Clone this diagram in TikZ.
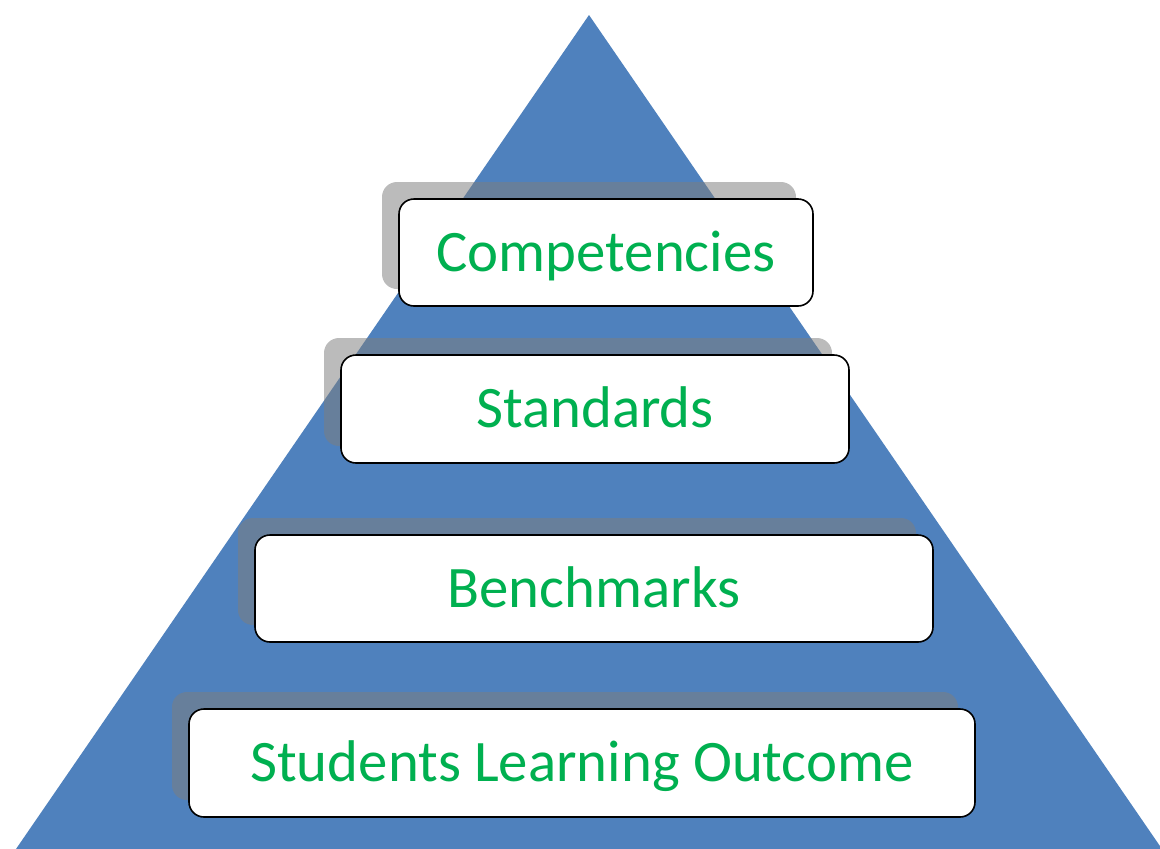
\documentclass[tikz,border=0pt]{standalone}
\usepackage{fontspec}
\setmainfont{Carlito}
\usetikzlibrary{shadows}
\definecolor{pyrblue}{HTML}{4F81BD}
\definecolor{labelgreen}{HTML}{00B050}
\definecolor{shadegray}{HTML}{7E7E7E}
\tikzset{
  stepbox/.style={
    rectangle, rounded corners=15pt, draw=black, line width=1.6pt,
    fill=white, inner sep=0pt, text=labelgreen,
    font=\fontsize{58.8}{62}\selectfont,
    text height=37.9pt, text depth=0pt,
    general shadow={fill=shadegray, fill opacity=0.53, draw=none,
      shadow xshift=-17pt, shadow yshift=17pt}
  }
}
\begin{document}
\begin{tikzpicture}[x=1pt,y=-1pt]
  \useasboundingbox (0,0) rectangle (1160,849);
  % pyramid
  \fill[pyrblue] (589,15) -- (1162,849) -- (16,849) -- cycle;
  % levels
  \node[stepbox, minimum width=414pt, minimum height=107pt] (comp) at (606,252.5) {Competencies};
  \node[stepbox, minimum width=508pt, minimum height=108pt] (stand) at (595,409) {Standards};
  \node[stepbox, minimum width=678pt, minimum height=107pt] (bench) at (594,588.5) {Benchmarks};
  \node[stepbox, minimum width=786pt, minimum height=108pt] (slo) at (582,763) {Students Learning Outcome};
\end{tikzpicture}
\end{document}
